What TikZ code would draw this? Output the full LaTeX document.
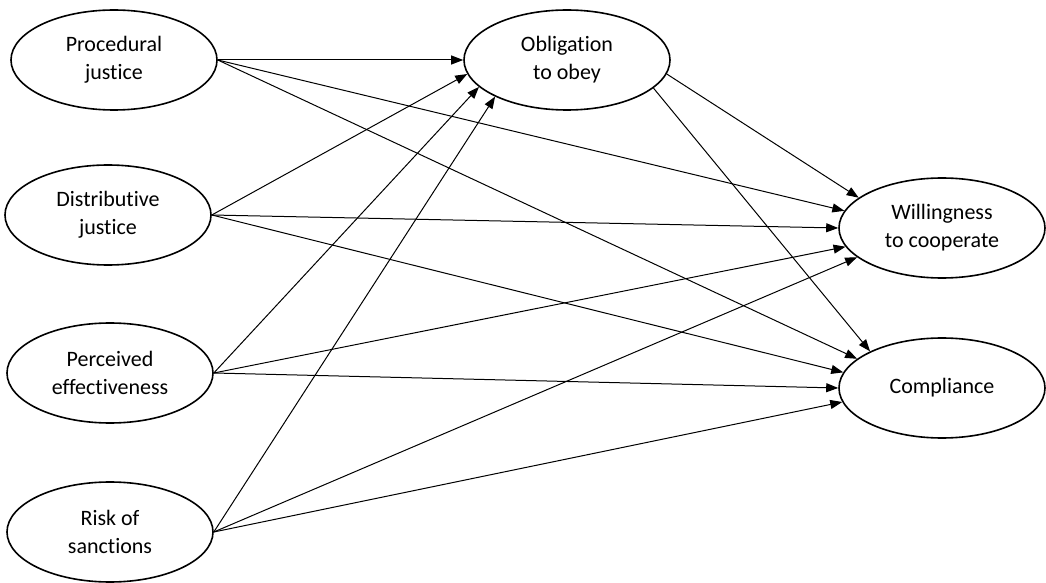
\documentclass[tikz,border=0pt]{standalone}
\usepackage{fontspec}
\setmainfont{Carlito}[Ligatures={NoCommon}]
\usepackage{tikz}
\usetikzlibrary{shapes.geometric}
\usetikzlibrary{arrows.meta}
\tikzset{
	main node/.style={ellipse,draw,line width=0.8pt,minimum width=103pt,minimum height=50pt,
		inner sep=0pt,align=center,font=\fontsize{11}{14}\selectfont},
	link/.style={line width=0.5pt}
}

\begin{document}
\begin{tikzpicture}[x=0.5pt,y=-0.5pt,->,>={Triangle[length=6pt,width=4.5pt]}]
	\useasboundingbox (0,0) rectangle (1046,583);
	% predictors
	\node [main node] (proc) at (114,60) {Procedural\\justice};
	\node [main node] (dist) at (108,215) {Distributive\\justice};
	\node [main node] (perc) at (110,373) {Perceived\\effectiveness};
	\node [main node] (risk) at (110,532) {Risk of\\sanctions};
	% mediator and outcomes
	\node [main node] (oblig) at (567,60) {Obligation\\to obey};
	\node [main node] (will) at (942,228) {Willingness\\to cooperate};
	\node [main node] (comp) at (942,388) {Compliance};
	% paths
	\draw [link] (proc.east) -- (oblig.west);
	\draw [link] (proc.east) -- (will.170.6);
	\draw [link] (proc.east) -- (comp.161.6);
	\draw [link] (dist.east) -- (oblig.188.5);
	\draw [link] (dist.east) -- (will.west);
	\draw [link] (dist.east) -- (comp.171.2);
	\draw [link] (perc.east) -- (oblig.197);
	\draw [link] (perc.east) -- (will.191.9);
	\draw [link] (perc.east) -- (comp.west);
	\draw [link] (risk.east) -- (oblig.207);
	\draw [link] (risk.east) -- (will.199.7);
	\draw [link] (risk.east) -- (comp.188.8);
	\draw [link] (oblig.-8.5) -- (will.160.3);
	\draw [link] (oblig.-18) -- (comp.153.4);
\end{tikzpicture}
\end{document}
